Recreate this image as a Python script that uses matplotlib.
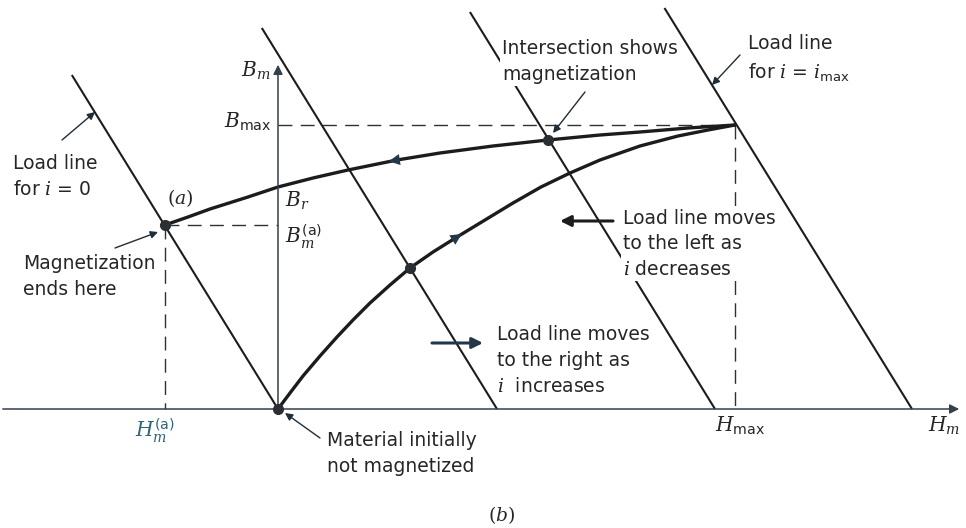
import numpy as np
import matplotlib.pyplot as plt

plt.rcParams['font.family'] = ['DejaVu Sans']
plt.rcParams['mathtext.fontset'] = 'custom'
plt.rcParams['mathtext.rm'] = 'DejaVu Serif'
plt.rcParams['mathtext.it'] = 'DejaVu Serif:italic'
plt.rcParams['mathtext.sf'] = 'DejaVu Sans'

# magnetization curve (i going up from 0 to i_max)
up_H = [0, 12, 25, 42, 59, 75, 92, 112, 132, 155, 179, 207, 235, 263, 292, 322, 362, 400, 430, 457]
up_B = [0, 16, 33, 53, 72, 89, 106, 124, 141, 157, 172, 189, 206, 222, 236, 249, 263, 273, 279, 284]

# demagnetization curve (i going back down to 0)
down_H = [-113, -90, -68, -30, 0, 35, 70, 119, 162, 215, 270, 322, 362, 410, 457]
down_B = [184, 192, 200, 212, 222, 231, 239, 249, 256, 263, 269, 274, 277, 281, 284]

# load lines: H-axis intercept and B at the top end
load_H0 = [0, 219, 437, 634]
load_Btop = [334, 381, 397, 401]
load_slope = 1.62

# marked operating points
dots_H = [0, -113, 132, 270]
dots_B = [0, 184, 141, 269]

H_max, B_max = 457, 284
H_a, B_a = -113, 184

ink = '#1c1c1c'
txt = '#262626'
axc = '#34404a'

fig = plt.figure(figsize=(9.66, 5.28), dpi=100)
ax = fig.add_axes([0, 0, 1, 1])
ax.set_xlim(-278, 688)
ax.set_ylim(-119, 409)
ax.axis('off')

# axes with arrows
ax.annotate('', xy=(684, 0), xytext=(-278, 0),
            arrowprops=dict(arrowstyle='-|>', color=axc, lw=1.1, mutation_scale=14))
ax.annotate('', xy=(0, 347), xytext=(0, 0),
            arrowprops=dict(arrowstyle='-|>', color=axc, lw=1.1, mutation_scale=14))

# load lines
for h0, bt in zip(load_H0, load_Btop):
    ax.plot([h0 - bt / load_slope, h0], [bt, 0], color=ink, lw=1.5, zorder=2,
            solid_capstyle='butt')

# dashed guides
dash = dict(color='#303030', lw=1.0, dashes=(10, 6), zorder=1)
ax.plot([0, H_max], [B_max, B_max], **dash)
ax.plot([H_max, H_max], [B_max, 0], **dash)
ax.plot([H_a, 0], [B_a, B_a], **dash)
ax.plot([H_a, H_a], [B_a, 0], **dash)

# B-H curves
ax.plot(up_H, up_B, color=ink, lw=2.4, zorder=2, solid_capstyle='round', solid_joinstyle='round')
ax.plot(down_H, down_B, color=ink, lw=2.4, zorder=2, solid_capstyle='round', solid_joinstyle='round')
ax.annotate('', xy=(108, 247.3), xytext=(135, 251.5),
            arrowprops=dict(arrowstyle='-|>', color='#22384a', lw=0, mutation_scale=20))
ax.annotate('', xy=(186, 176.5), xytext=(165, 163),
            arrowprops=dict(arrowstyle='-|>', color='#22384a', lw=0, mutation_scale=20))

ax.plot(dots_H, dots_B, 'o', color='#2b2f33', ms=7, zorder=4)

# axis labels
ms = 14.5
ax.text(-7, 332, r'$B_m$', fontsize=ms, ha='right', va='baseline', color=txt)
ax.text(-7, 281, r'$B_{\mathsf{max}}$', fontsize=ms, ha='right', va='baseline', color=txt)
ax.text(7, 202, r'$B_r$', fontsize=ms, ha='left', va='baseline', color=txt)
ax.text(7, 166, r'$B_m^{\mathsf{(a)}}$', fontsize=ms, ha='left', va='baseline', color=txt)
ax.text(-143, -28, r'$H_m^{\mathsf{(a)}}$', fontsize=ms, ha='left', va='baseline', color='#2d6674')
ax.text(437, -23, r'$H_{\mathsf{max}}$', fontsize=ms, ha='left', va='baseline', color=txt)
ax.text(650, -23, r'$H_m$', fontsize=ms, ha='left', va='baseline', color=txt)
ax.text(-111, 211, r'$(a)$', fontsize=13.5, ha='left', va='center', color=txt)
ax.text(224, -106, r'$(b)$', fontsize=13.5, ha='center', va='center', color=txt)

# callout notes (position is the baseline of the last line)
fs = 13.5
ls = 1.45
box = dict(facecolor='white', edgecolor='none', pad=1.5)
notes = [
    ((-265, 214), 'Load line\nfor $i$ = 0', (-216, 269), (-183, 297)),
    ((-255, 114), 'Magnetization\nends here', (-163, 161), (-120, 177)),
    ((224, 329), 'Intersection shows\nmagnetization', (307, 317), (275, 276)),
    ((470, 331), 'Load line\nfor $i$ = $i_{\\mathsf{max}}$', (462, 354), (434, 324)),
    ((49, -63), 'Material initially\nnot magnetized', (42, -29), (7, -4)),
]
for (x, y), s, tail, head in notes:
    ax.text(x, y, s, fontsize=fs, ha='left', va='baseline', color=txt,
            linespacing=ls, bbox=box, zorder=3)
    ax.annotate('', xy=head, xytext=tail,
                arrowprops=dict(arrowstyle='-|>', color='#1f2d38', lw=1.0,
                                mutation_scale=11, shrinkA=0, shrinkB=0), zorder=5)

ax.text(345, 134, 'Load line moves\nto the left as\n$i$ decreases', fontsize=fs,
        ha='left', va='baseline', color=txt, linespacing=ls, bbox=box, zorder=3)
ax.annotate('', xy=(282, 188), xytext=(335, 188),
            arrowprops=dict(arrowstyle='-|>', color=ink, lw=2.2, mutation_scale=16,
                            shrinkA=0, shrinkB=0), zorder=5)

ax.text(219, 17, 'Load line moves\nto the right as\n$i$  increases', fontsize=fs,
        ha='left', va='baseline', color=txt, linespacing=ls, bbox=box, zorder=3)
ax.annotate('', xy=(205, 66), xytext=(154, 66),
            arrowprops=dict(arrowstyle='-|>', color='#22384a', lw=2.2, mutation_scale=16,
                            shrinkA=0, shrinkB=0), zorder=5)

fig.savefig('out.png', dpi=100, facecolor='white')
